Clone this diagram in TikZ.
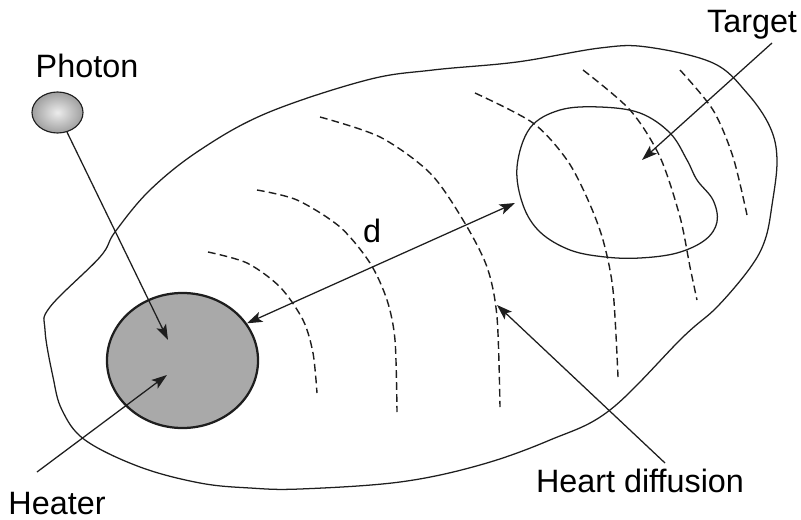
\documentclass[tikz,border=0pt]{standalone}
\usepackage{fontspec}
\setmainfont{Liberation Sans}
\usetikzlibrary{shapes.geometric, arrows.meta, positioning}
\definecolor{HeaterGray}{HTML}{A9A9A9}
\definecolor{LineGray}{HTML}{1E1E1E}

\begin{document}
\begin{tikzpicture}[
  x=0.025cm, y=-0.025cm,
  >={Stealth[length=11pt, width=7.5pt, inset=2.5pt]},
  lbl/.style={font=\fontsize{23}{27}\selectfont, inner sep=0pt, anchor=base},
  arrow/.style={->, line width=0.9pt, color=LineGray},
  wave/.style={dash pattern=on 5.5pt off 3pt, line width=1pt, color=LineGray},
  outline/.style={line width=0.9pt, color=LineGray},
  heaterbox/.style={ellipse, draw=LineGray, line width=1.6pt, fill=HeaterGray,
    minimum width=3.775cm, minimum height=3.375cm, inner sep=0pt},
  photonbox/.style={ellipse, draw=LineGray, line width=0.8pt, shading=radial,
    inner color=gray!15, outer color=gray!75,
    minimum width=1.275cm, minimum height=1.025cm, inner sep=0pt}
]
\useasboundingbox (0,0) rectangle (801,519);

% tissue outline
\draw[outline] plot[smooth cycle, tension=0.6] coordinates {
  (200,150) (267,113) (367,80) (433,70) (517,62) (600,48) (647,47)
  (713,63) (747,93) (770,127) (777,160) (772,205) (765,240) (750,268)
  (717,307) (683,337) (610,410) (550,440) (480,465) (400,482) (300,489)
  (250,488) (200,483) (140,467) (85,440) (62,410) (53,377) (45,330)
  (50,307) (100,257) (115,232) (150,190)};

% target region
\draw[outline] plot[smooth cycle, tension=0.6] coordinates {
  (517,167) (530,128) (560,110) (600,107) (640,113) (670,133) (687,160)
  (697,180) (713,200) (717,222) (705,240) (677,253) (640,258) (605,257)
  (570,250) (540,232) (523,205)};

% diffusion fronts
\draw[wave] plot[smooth] coordinates {(208,252) (247,263) (280,287) (303,320) (313,353) (317,393)};
\draw[wave] plot[smooth] coordinates {(257,190) (297,200) (340,227) (370,263) (387,300) (395,340) (397,412)};
\draw[wave] plot[smooth] coordinates {(320,117) (380,137) (430,173) (463,220) (487,267) (497,317) (500,407)};
\draw[wave] plot[smooth] coordinates {(475,93) (533,123) (567,160) (588,200) (603,240) (613,290) (618,377)};
\draw[wave] plot[smooth] coordinates {(583,70) (630,110) (660,157) (680,217) (690,267) (697,300)};
\draw[wave] plot[smooth] coordinates {(680,70) (713,110) (733,157) (747,215)};

% nodes
\node[heaterbox] (heater) at (182.5,360.5) {};
\node[photonbox] (photon) at (57.5,112.5) {};

\node[lbl] (photonlbl) at (87,78) {Photon};
\node[lbl] (heaterlbl) at (57,514) {Heater};
\node[lbl] (targetlbl) at (752,33) {Target};
\node[lbl] (difflbl) at (640,492) {Heart diffusion};
\node[lbl] (dlbl) at (372,242) {d};

\coordinate (phtip) at (168,340);
\coordinate (htstart) at (37,472);
\coordinate (httip) at (167,375);
\coordinate (dend) at (515,203);
\coordinate (tgstart) at (772,43);
\coordinate (tgtip) at (642,160);
\coordinate (hdstart) at (665,463);
\coordinate (hdtip) at (497,305);

% arrows
\draw[arrow] (photon) -- (phtip);
\draw[arrow] (htstart) -- (httip);
\draw[arrow, <->] (heater.30) -- (dend);
\draw[arrow] (tgstart) -- (tgtip);
\draw[arrow] (hdstart) -- (hdtip);
\end{tikzpicture}
\end{document}
